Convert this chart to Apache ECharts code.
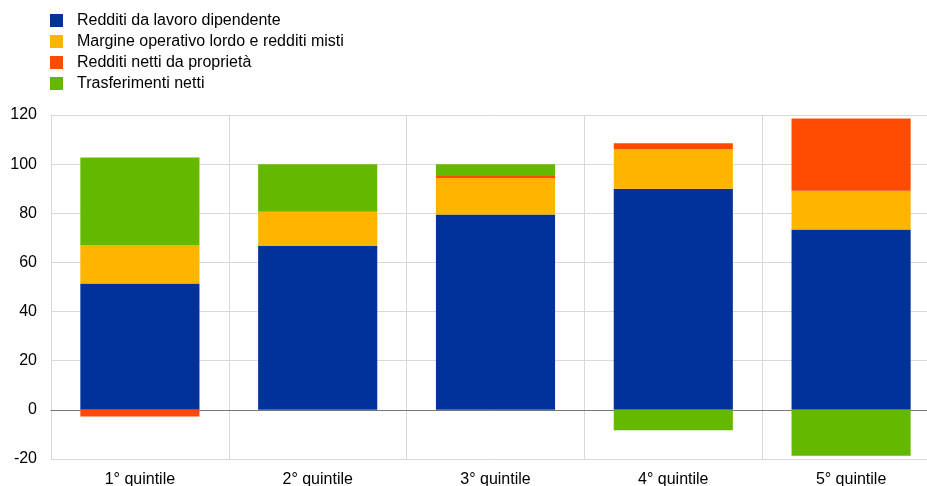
<!DOCTYPE html>
<html>
<head>
<meta charset="utf-8">
<script src="https://cdn.jsdelivr.net/npm/echarts@6/dist/echarts.min.js"></script>
<style>html,body{margin:0;padding:0;background:#fff}#c{width:927px;height:486px}</style>
</head>
<body>
<div id="c"></div>
<script>
var categories = ['1° quintile', '2° quintile', '3° quintile', '4° quintile', '5° quintile'];
var seriesNames = ['Redditi da lavoro dipendente', 'Margine operativo lordo e redditi misti', 'Redditi netti da proprietà', 'Trasferimenti netti'];
var lavoro = [51.4, 66.7, 79.5, 90.0, 73.4];
var margine = [15.7, 13.9, 14.9, 16.1, 15.8];
var proprieta = [-2.7, 0.0, 0.8, 2.4, 29.4];
var trasferimenti = [35.6, 19.4, 4.8, -8.3, -18.7];
var colors = ['#003299', '#FFB400', '#FF4B00', '#65B800'];
var yTicks = [-20, 0, 20, 40, 60, 80, 100, 120];

var dataSets = [lavoro, margine, proprieta, trasferimenti];
var chart = echarts.init(document.getElementById('c'));
chart.setOption({
  animation: false,
  textStyle: { fontFamily: 'Liberation Sans, Arial, sans-serif' },
  legend: {
    orient: 'vertical', left: 45, top: 7.5,
    itemWidth: 13, itemHeight: 13, itemGap: 5,
    icon: 'rect',
    textStyle: { fontSize: 16, color: '#000', padding: [0, 0, 0, 9] },
    data: seriesNames
  },
  grid: { left: 51, top: 115, width: 889, bottom: 27, containLabel: false, outerBoundsMode: 'none' },
  xAxis: {
    type: 'category', data: categories,
    axisLine: { onZero: true, lineStyle: { color: '#767676', width: 1 } },
    axisTick: { show: false },
    axisLabel: { fontSize: 16, color: '#000', margin: 13 },
    splitLine: { show: true, lineStyle: { color: '#d9d9d9', width: 1 } }
  },
  yAxis: {
    type: 'value', min: yTicks[0], max: yTicks[yTicks.length - 1], interval: 20,
    axisLine: { show: true, lineStyle: { color: '#d9d9d9' } },
    axisTick: { show: false },
    axisLabel: { fontSize: 16, color: '#000', margin: 14, padding: [3, 0, 0, 0] },
    splitLine: { lineStyle: { color: '#d9d9d9', width: 1 } }
  },
  series: seriesNames.map(function (n, i) {
    return {
      name: n, type: 'bar', stack: 'tot', data: dataSets[i],
      barCategoryGap: '33%',
      itemStyle: { color: colors[i] }
    };
  })
});
</script>
</body>
</html>
